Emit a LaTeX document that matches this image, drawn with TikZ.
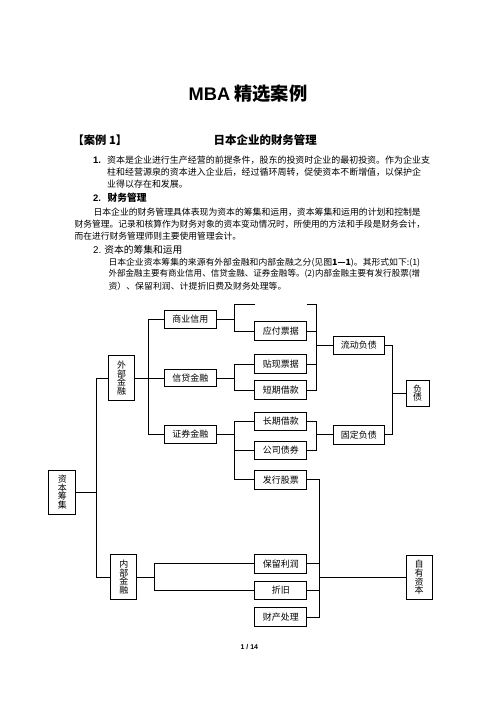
\documentclass[tikz,border=0pt]{standalone}
\usepackage{fontspec}
\usepackage{graphicx}
\setmainfont{Noto Sans CJK SC}
\newfontfamily\lat{Liberation Sans}
\tikzset{
  box/.style={draw, line width=1bp, inner sep=0pt, minimum width=51.7bp, minimum height=18.6bp, font=\fontsize{9}{9}\selectfont},
  vbox/.style={draw, line width=1bp, inner sep=0pt, minimum width=26.5bp, minimum height=44.3bp, align=center, font=\fontsize{9}{8.8}\selectfont},
  conn/.style={line width=1bp},
  txt/.style={anchor=west, inner sep=0pt},
}
\begin{document}
\begin{tikzpicture}[x=1bp,y=-1bp]
\useasboundingbox[fill=white] (0,0) rectangle (496,702);
% header text
\node[inner sep=0pt, font=\fontsize{18.3}{20}\selectfont\bfseries] (title) at (248,93.3) {{\lat MBA} 精选案例};
\node[txt, font=\fontsize{11.3}{12}\selectfont\bfseries] (case) at (72.5,140) {【案例 1】};
\node[inner sep=0pt, font=\fontsize{11.5}{12}\selectfont\bfseries] (head) at (265.3,140) {日本企业的财务管理};
\node[txt, font=\fontsize{9.5}{10}\selectfont\bfseries\lat] (n1) at (93,160) {1.};
\node[txt, font=\fontsize{9}{9}\selectfont] (p1a) at (107,160) {资本是企业进行生产经营的前提条件，股东的投资时企业的最初投资。作为企业支};
\node[txt, font=\fontsize{9}{9}\selectfont] (p1b) at (107,172) {柱和经营源泉的资本进入企业后，经过循环周转，促使资本不断增值，以保护企};
\node[txt, font=\fontsize{9}{9}\selectfont] (p1c) at (107,184.3) {业得以存在和发展。};
\node[txt, font=\fontsize{9.5}{10}\selectfont\bfseries\lat] (n2) at (93,198) {2.};
\node[txt, font=\fontsize{9.8}{10}\selectfont\bfseries] (h2) at (107.5,198) {财务管理};
\node[txt, font=\fontsize{8.88}{9}\selectfont] (p2a) at (93.3,212) {日本企业的财务管理具体表现为资本的筹集和运用，资本筹集和运用的计划和控制是};
\node[txt, font=\fontsize{8.8}{9}\selectfont] (p2b) at (74.3,224) {财务管理。记录和核算作为财务对象的资本变动情况时，所使用的方法和手段是财务会计，};
\node[txt, font=\fontsize{8.8}{9}\selectfont] (p2c) at (74.3,236) {而在进行财务管理师则主要使用管理会计。};
\node[txt, font=\fontsize{9.8}{10}\selectfont] (h3) at (93,250) {{\lat 2.} 资本的筹集和运用};
\node[txt, font=\fontsize{8.6}{9}\selectfont] (p3a) at (108.3,262.5) {\resizebox{311.7bp}{\height}{日本企业资本筹集的来源有外部金融和内部金融之分(见图\textbf{1—1})。其形式如下:(1)}};
\node[txt, font=\fontsize{8.6}{9}\selectfont] (p3b) at (108.3,274) {\resizebox{311.7bp}{\height}{外部金融主要有商业信用、信贷金融、证券金融等。(2)内部金融主要有发行股票(增}};
\node[txt, font=\fontsize{8.6}{9}\selectfont] (p3c) at (108.3,286) {\resizebox{178bp}{\height}{资）、保留利润、计提折旧费及财务处理等。}};
% diagram nodes
\node[vbox, minimum width=26.7bp] (zb) at (62.3,492.2) {资\\本\\筹\\集};
\node[vbox] (wb) at (121.5,378) {外\\部\\金\\融};
\node[vbox, minimum width=25.7bp] (nb) at (123.8,577) {内\\部\\金\\融};
\node[box, minimum width=52bp, minimum height=17.7bp] (sy) at (190.3,319.2) {商业信用};
\node[box, minimum width=52bp, minimum height=17.7bp] (xd) at (190.3,378) {信贷金融};
\node[box, minimum width=52bp, minimum height=17.7bp] (zq) at (190.3,434.5) {证券金融};
\coordinate (bw) at (255,304);
\coordinate (be) at (306.7,304);
\node[box] (yf) at (280.8,331.2) {应付票据};
\node[box] (tx) at (280.8,364.2) {贴现票据};
\node[box] (dq) at (280.8,390) {短期借款};
\node[box] (cq) at (280.8,421.5) {长期借款};
\node[box] (gs) at (280.8,450.5) {公司债券};
\node[box] (fx) at (280.8,479.7) {发行股票};
\node[box] (bl) at (280.8,563.8) {保留利润};
\node[box] (zj) at (280.8,590.5) {折旧};
\node[box] (cc) at (280.8,617) {财产处理};
\node[box, minimum width=51bp, minimum height=18.3bp] (ld) at (358.8,345.2) {流动负债};
\node[box, minimum width=51bp, minimum height=19bp] (gd) at (358.8,434.7) {固定负债};
\node[vbox, minimum width=23.3bp, minimum height=26bp] (fz) at (417.7,393) {负\\债};
\node[vbox, minimum width=26.3bp, minimum height=44bp] (zy) at (419.2,577.3) {自\\有\\资\\本};
% bracket x positions
\coordinate (b1) at (96.7,0);
\coordinate (b2) at (148.3,0);
\coordinate (b3) at (234.3,0);
\coordinate (b4) at (316.7,0);
\coordinate (b5) at (392.3,0);
\coordinate (b6) at (319,0);
\coordinate (b7) at (154.7,0);
% connectors
\draw[conn] (wb.west) -- (wb.west -| b1) |- (nb.west);
\draw[conn] (zb.east) -- (zb.east -| b1);
\draw[conn] (sy.west) -- (sy.west -| b2) |- (zq.west);
\draw[conn] (wb.east) -- (xd.west);
\draw[conn] (sy.east) -- (sy.east -| b3);
\draw[conn] (bw) -- (bw -| b3) |- (yf.west);
\draw[conn] (xd.east) -- (xd.east -| b3);
\draw[conn] (tx.west) -- (tx.west -| b3) |- (dq.west);
\draw[conn] (zq.east) -- (zq.east -| b3);
\draw[conn] (cq.west) -- (cq.west -| b3) |- (fx.west);
\draw[conn] (gs.west) -- (gs.west -| b3);
\draw[conn] (be) -- (be -| b4) |- (dq.east);
\draw[conn] (yf.east) -- (yf.east -| b4);
\draw[conn] (tx.east) -- (tx.east -| b4);
\draw[conn] (ld.west) -- (ld.west -| b4);
\draw[conn] (cq.east) -- (cq.east -| b4) |- (gs.east);
\draw[conn] (gd.west) -- (gd.west -| b4);
\draw[conn] (ld.east) -- (ld.east -| b5) |- (gd.east);
\draw[conn] (fz.west) -- (fz.west -| b5);
\draw[conn] (fx.east) -- (fx.east -| b6) |- (cc.east);
\draw[conn] (bl.east) -- (bl.east -| b6);
\draw[conn] (zj.east) -- (zj.east -| b6);
\draw[conn] (zy.west) -- (zy.west -| b6);
\draw[conn] (nb.east) -- (nb.east -| b7);
\draw[conn] (bl.west) -- (bl.west -| b7) |- (zj.west);
% page number
\node[inner sep=0pt, font=\fontsize{7}{8}\selectfont\bfseries\lat] (pg) at (249.3,647) {1 / 14};
\end{tikzpicture}
\end{document}
